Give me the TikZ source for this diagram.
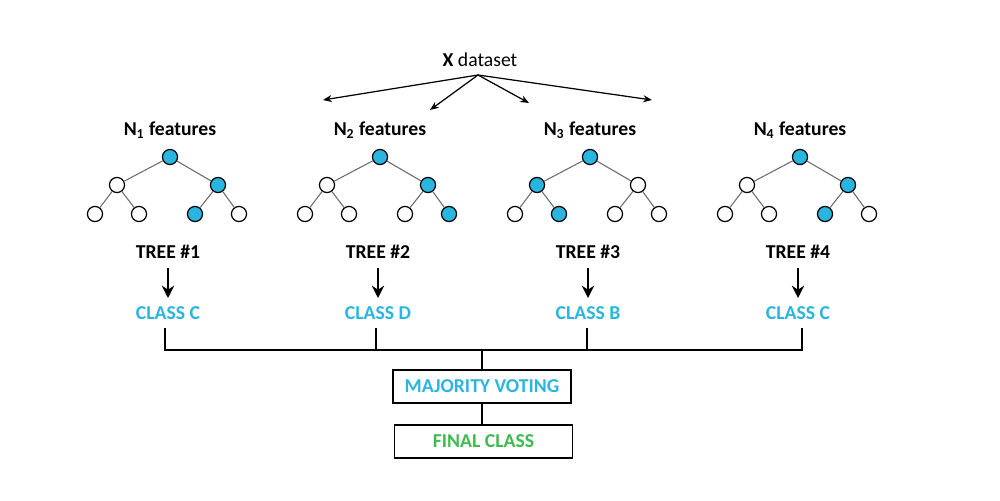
\documentclass[tikz,border=0pt]{standalone}
\usepackage{fontspec}
\setmainfont{Carlito}
\usetikzlibrary{arrows.meta}
\definecolor{cblue}{HTML}{2AB4E0}
\definecolor{cgreen}{HTML}{3DBA50}
\definecolor{edgegray}{HTML}{6A6A6A}
\tikzset{
  px/.style={x=0.02cm,y=-0.02cm},
  tn/.style={circle,draw=black,line width=0.7pt,minimum size=8.6pt,inner sep=0pt,fill=white},
  tb/.style={tn,fill=cblue},
  tedge/.style={draw=edgegray,line width=0.6pt},
  lbl/.style={font=\fontsize{11.2}{13}\selectfont\bfseries,inner sep=1pt},
  cls/.style={lbl,text=cblue},
  conn/.style={draw=black,line width=0.9pt},
  fan/.style={draw=black,line width=0.7pt,-{Stealth[length=5pt,width=4pt]}},
  down/.style={draw=black,line width=1.5pt,-{Stealth[length=7pt,width=7pt]}},
  boxn/.style={draw=black,line width=0.9pt,minimum width=178*0.02cm,minimum height=33*0.02cm,inner sep=0pt,font=\fontsize{11.2}{13}\selectfont\bfseries}
}
\begin{document}
\begin{tikzpicture}[px]
\useasboundingbox (0,0) rectangle (1000,500);
% dataset
\node[font=\fontsize{11.2}{13}\selectfont,inner sep=1pt] (xd) at (480,60) {\textbf{X} dataset};
\coordinate (xo) at (478,75);
\coordinate (e1) at (323,100);
\coordinate (e2) at (430,110);
\coordinate (e3) at (529,103);
\coordinate (e4) at (652,100);
\draw[fan] (xo) -- (e1);
\draw[fan] (xo) -- (e2);
\draw[fan] (xo) -- (e3);
\draw[fan] (xo) -- (e4);
% trees
\foreach \i/\ox/\cl/\sa/\sb/\sc/\sd/\se/\sf/\sg in {
  1/0/C/tb/tn/tb/tn/tn/tb/tn,
  2/210/D/tb/tn/tb/tn/tn/tn/tb,
  3/420/B/tb/tb/tn/tn/tb/tn/tn,
  4/630/C/tb/tn/tb/tn/tn/tb/tn}{
  \node[lbl] (f\i) at (170+\ox,130) {N\textsubscript{\i} features};
  \node[\sa] (r\i) at (170+\ox,157) {};
  \node[\sb] (a\i) at (117+\ox,185) {};
  \node[\sc] (b\i) at (218+\ox,185) {};
  \node[\sd] (c\i) at (95+\ox,214) {};
  \node[\se] (d\i) at (139+\ox,214) {};
  \node[\sf] (g\i) at (195+\ox,214) {};
  \node[\sg] (h\i) at (239+\ox,214) {};
  \draw[tedge] (r\i) -- (a\i);
  \draw[tedge] (r\i) -- (b\i);
  \draw[tedge] (a\i) -- (c\i);
  \draw[tedge] (a\i) -- (d\i);
  \draw[tedge] (b\i) -- (g\i);
  \draw[tedge] (b\i) -- (h\i);
  \node[lbl] (t\i) at (168+\ox,252) {TREE \#\i};
  \coordinate (ds\i) at (168+\ox,268);
  \coordinate (de\i) at (168+\ox,298);
  \draw[down] (ds\i) -- (de\i);
  \node[cls] (k\i) at (168+\ox,313) {CLASS \cl};
}
% joining lines
\coordinate (v1a) at (165,328); \coordinate (v1b) at (165,350);
\coordinate (v2a) at (376,328); \coordinate (v2b) at (376,350);
\coordinate (v3a) at (587,328); \coordinate (v3b) at (587,350);
\coordinate (v4a) at (802,328); \coordinate (v4b) at (802,350);
\coordinate (mid) at (482,350);
\draw[conn] (v1a) -- (v1b) -- (v4b) -- (v4a);
\draw[conn] (v2a) -- (v2b);
\draw[conn] (v3a) -- (v3b);
\node[boxn,text=cblue] (mv) at (482,386.5) {MAJORITY VOTING};
\node[boxn,text=cgreen] (fc) at (483.5,441.5) {FINAL CLASS};
\draw[conn] (mid) -- (mv.north);
\draw[conn] (mv.south) -- (mv.south |- fc.north);
\end{tikzpicture}
\end{document}
